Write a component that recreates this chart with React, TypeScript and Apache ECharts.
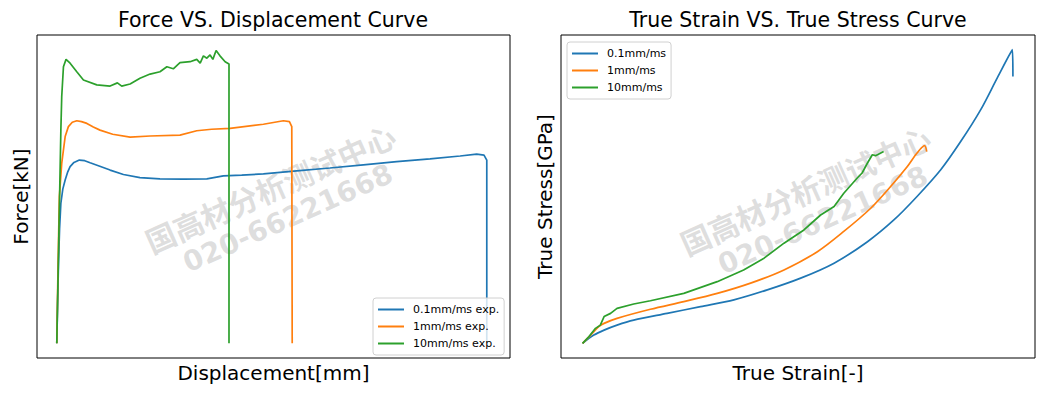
import React, { useEffect, useRef } from "react";
import * as echarts from "echarts";

// ---------- data ----------
const forceLegend = ["0.1mm/ms exp.", "1mm/ms exp.", "10mm/ms exp."];
const stressLegend = ["0.1mm/ms", "1mm/ms", "10mm/ms"];
const colors = ["#1f77b4", "#ff7f0e", "#2ca02c"];

// Displacement [mm], Force [kN]
const force01: [number, number][] = [
  [0, 0], [0.04, 1.4], [0.08, 2.72], [0.13, 3.9], [0.19, 4.77], [0.28, 5.25], [0.39, 5.56],
  [0.5, 5.82], [0.62, 6.02], [0.8, 6.16], [1.05, 6.24], [1.3, 6.22], [1.55, 6.15],
  [2.0, 6.03], [2.48, 5.9], [3.1, 5.75], [3.87, 5.64], [4.8, 5.6], [5.89, 5.59],
  [6.98, 5.6], [7.75, 5.7], [8.6, 5.73], [9.61, 5.77], [11.16, 5.87], [12.7, 5.97],
  [14.26, 6.08], [15.81, 6.19], [17.36, 6.28], [18.76, 6.38], [19.53, 6.44],
  [19.87, 6.41], [20.0, 6.24], [20.0, 0],
];
const force1: [number, number][] = [
  [0, 0], [0.06, 2.7], [0.12, 4.99], [0.23, 6.13], [0.39, 7.04], [0.54, 7.38],
  [0.72, 7.53], [0.93, 7.58], [1.15, 7.55], [1.4, 7.49], [1.7, 7.37], [2.01, 7.26],
  [2.6, 7.12], [3.41, 7.02], [4.34, 7.06], [5.73, 7.09], [6.51, 7.24], [7.2, 7.29],
  [8.06, 7.32], [9.61, 7.46], [10.54, 7.58], [10.82, 7.55], [10.93, 7.38], [10.95, 0],
];
const force10: [number, number][] = [
  [0, 0], [0.19, 7.26], [0.23, 8.4], [0.31, 9.42], [0.43, 9.67], [0.62, 9.54],
  [0.93, 9.25], [1.24, 8.97], [1.86, 8.8], [2.48, 8.76], [2.82, 8.87], [3.02, 8.76],
  [3.41, 8.83], [3.87, 9.03], [4.34, 9.17], [4.8, 9.25], [5.12, 9.42], [5.42, 9.35],
  [5.73, 9.56], [6.2, 9.59], [6.51, 9.67], [6.67, 9.54], [6.82, 9.79], [6.98, 9.71],
  [7.13, 9.82], [7.26, 9.67], [7.41, 9.97], [7.59, 9.79], [7.83, 9.59], [8.01, 9.51],
  [8.01, 0],
];

// True strain [-], True stress [GPa]
const stress01: [number, number][] = [
  [0, 0], [0.021, 0.028], [0.04, 0.045], [0.064, 0.062], [0.095, 0.079], [0.157, 0.102],
  [0.219, 0.125], [0.281, 0.148], [0.343, 0.182], [0.405, 0.222], [0.467, 0.273],
  [0.529, 0.346], [0.578, 0.42], [0.621, 0.5], [0.665, 0.591], [0.702, 0.687],
  [0.739, 0.795], [0.77, 0.904], [0.798, 1.0], [0.799, 0.909],
];
const stress1: [number, number][] = [
  [0, 0], [0.015, 0.028], [0.03, 0.057], [0.04, 0.068], [0.064, 0.085], [0.126, 0.116],
  [0.188, 0.142], [0.25, 0.17], [0.312, 0.205], [0.374, 0.25], [0.436, 0.312],
  [0.485, 0.381], [0.535, 0.46], [0.572, 0.534], [0.603, 0.602], [0.621, 0.648],
  [0.635, 0.673], [0.639, 0.653],
];
const stress10: [number, number][] = [
  [0, 0], [0.012, 0.023], [0.024, 0.051], [0.033, 0.062], [0.04, 0.091], [0.052, 0.102],
  [0.064, 0.119], [0.095, 0.134], [0.126, 0.145], [0.188, 0.17], [0.25, 0.21],
  [0.299, 0.25], [0.337, 0.29], [0.374, 0.341], [0.411, 0.386], [0.442, 0.437],
  [0.467, 0.466], [0.485, 0.511], [0.51, 0.563], [0.519, 0.58], [0.529, 0.614],
  [0.538, 0.642], [0.544, 0.639], [0.559, 0.653],
];

const titles = ["Force VS. Displacement Curve", "True Strain VS. True Stress Curve"];
const xNames = ["Displacement[mm]", "True Strain[-]"];
const yNames = ["Force[kN]", "True Stress[GPa]"];
const watermark = ["国高材分析测试中心", "020-66221668"];

const FONT = "DejaVu Sans";

export default function App() {
  const ref = useRef<HTMLDivElement>(null);
  useEffect(() => {
    if (!ref.current) return;
    const chart = echarts.init(ref.current, undefined, { renderer: "svg" });

    const hiddenAxis = {
      axisLine: { show: false },
      axisTick: { show: false },
      axisLabel: { show: false },
      splitLine: { show: false },
      nameLocation: "middle" as const,
      nameTextStyle: { fontSize: 20, fontFamily: FONT, color: "#000" },
    };

    const legendBase = {
      orient: "vertical" as const,
      icon: "rect",
      itemWidth: 26,
      itemHeight: 2,
      itemGap: 4,
      borderColor: "#d0d0d0",
      borderWidth: 1,
      borderRadius: 3,
      backgroundColor: "rgba(255,255,255,0.8)",
      padding: [5, 5, 5, 5],
      textStyle: { fontSize: 11, fontFamily: FONT, color: "#000", lineHeight: 13, padding: [0, 0, 0, 4] },
    };

    const mkWatermark = (cx: number, cy: number) => ({
      type: "group",
      x: cx,
      y: cy,
      rotation: (24 * Math.PI) / 180,
      z: 100,
      silent: true,
      children: [
        {
          type: "text",
          x: -2,
          y: -17.5,
          style: {
            text: watermark[0],
            fontSize: 30,
            fontWeight: "bold",
            fontFamily: "Noto Sans CJK SC",
            fill: "rgba(160,160,160,0.35)",
            align: "center",
            verticalAlign: "middle",
            textAlign: "center",
            textVerticalAlign: "middle",
          },
        },
        {
          type: "text",
          x: 2,
          y: 17.5,
          style: {
            text: watermark[1],
            fontSize: 28,
            fontWeight: "bold",
            fontFamily: FONT,
            fill: "rgba(160,160,160,0.35)",
            align: "center",
            verticalAlign: "middle",
            textAlign: "center",
            textVerticalAlign: "middle",
          },
        },
      ],
    });

    const lineSeries = (name: string, data: [number, number][], idx: number, color: string, smooth: number | boolean = false) => ({
      type: "line",
      name,
      data,
      xAxisIndex: idx,
      yAxisIndex: idx,
      showSymbol: false,
      symbol: "none",
      smooth,
      lineStyle: { color, width: 1.7 },
      itemStyle: { color },
    });

    chart.setOption({
      animation: false,
      title: [
        { text: titles[0], left: 273, top: 9, textAlign: "center", padding: 0,
          textStyle: { fontSize: 20.5, fontWeight: "normal", fontFamily: FONT, color: "#000" } },
        { text: titles[1], left: 798, top: 9, textAlign: "center", padding: 0,
          textStyle: { fontSize: 20.5, fontWeight: "normal", fontFamily: FONT, color: "#000" } },
      ],
      grid: [
        { left: 37, top: 35, width: 473, height: 323, show: true, borderColor: "#000", borderWidth: 1, backgroundColor: "transparent" },
        { left: 561, top: 35, width: 474, height: 323, show: true, borderColor: "#000", borderWidth: 1, backgroundColor: "transparent" },
      ],
      xAxis: [
        { type: "value", gridIndex: 0, min: -0.92, max: 21.08, name: xNames[0], nameGap: 5, ...hiddenAxis },
        { type: "value", gridIndex: 1, min: -0.04, max: 0.84, name: xNames[1], nameGap: 5, ...hiddenAxis },
      ],
      yAxis: [
        { type: "value", gridIndex: 0, min: -0.5, max: 10.5, name: yNames[0], nameGap: 6, ...hiddenAxis },
        { type: "value", gridIndex: 1, min: -0.05, max: 1.05, name: yNames[1], nameGap: 6, ...hiddenAxis },
      ],
      legend: [
        { ...legendBase, data: forceLegend, left: 373, top: 298 },
        { ...legendBase, data: stressLegend, left: 567, top: 42 },
      ],
      series: [
        lineSeries(forceLegend[0], force01, 0, colors[0]),
        lineSeries(forceLegend[1], force1, 0, colors[1]),
        lineSeries(forceLegend[2], force10, 0, colors[2]),
        lineSeries(stressLegend[0], stress01, 1, colors[0], 0.3),
        lineSeries(stressLegend[1], stress1, 1, colors[1], 0.3),
        lineSeries(stressLegend[2], stress10, 1, colors[2]),
      ],
      graphic: [mkWatermark(279, 203), mkWatermark(814, 205)],
    });

    return () => chart.dispose();
  }, []);

  return (
    <div
      ref={ref}
      style={{ position: "fixed", left: 0, top: 0, width: 1059, height: 398, background: "#fff" }}
    />
  );
}
